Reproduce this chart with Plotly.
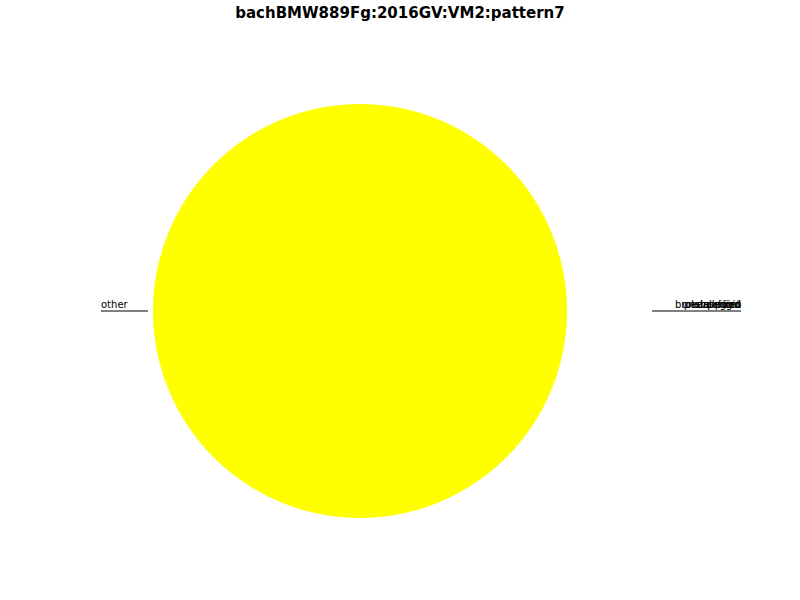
import plotly.graph_objects as go

title = "bachBMW889Fg:2016GV:VM2:pattern7"
labels = ["other", "arpeggio", "pedal point", "scale run", "unclassified", "broken chord"]
values = [100, 0, 0, 0, 0, 0]
colors = ["#ffff00", "#1f77b4", "#ff7f0e", "#2ca02c", "#d62728", "#9467bd"]

W, H = 800, 600
cx, cy, r = 360, 311, 207


def px(x):
    return x / W


def py(y):
    return 1 - y / H


fig = go.Figure(go.Pie(
    labels=labels, values=values, sort=False, direction="counterclockwise",
    rotation=90, marker=dict(colors=colors, line=dict(width=0)),
    textinfo="none", hoverinfo="label+value", showlegend=False,
    domain=dict(x=[(cx - r) / W, (cx + r) / W], y=[(H - cy - r) / H, (H - cy + r) / H]),
))

annotations = []
shapes = []
for lab, val in zip(labels, values):
    if val > 0:
        annotations.append(dict(x=px(101), y=py(304), xref="paper", yref="paper",
                                text=lab, showarrow=False, xanchor="left", yanchor="middle",
                                xshift=-1, borderpad=0,
                                font=dict(family="DejaVu Sans", size=10, color="black")))
        shapes.append(dict(type="line", xref="paper", yref="paper",
                           x0=px(101), x1=px(148), y0=py(311), y1=py(311),
                           line=dict(color="black", width=1)))
    else:
        annotations.append(dict(x=px(741), y=py(304), xref="paper", yref="paper",
                                text=lab, showarrow=False, xanchor="right", yanchor="middle",
                                xshift=1, borderpad=0,
                                font=dict(family="DejaVu Sans", size=10, color="black")))
shapes.append(dict(type="line", xref="paper", yref="paper",
                   x0=px(652), x1=px(741), y0=py(311), y1=py(311),
                   line=dict(color="black", width=1)))

fig.update_layout(
    width=W, height=H, margin=dict(l=0, r=0, t=0, b=0),
    paper_bgcolor="white", plot_bgcolor="white",
    title=dict(text="<b>" + title + "</b>", x=px(400), xanchor="center", y=py(13), yanchor="middle",
               font=dict(family="DejaVu Sans", size=15, color="black")),
    annotations=annotations, shapes=shapes,
)

fig.write_html("out.html", config={"displayModeBar": False},
               post_script="document.body.style.margin='0';")
